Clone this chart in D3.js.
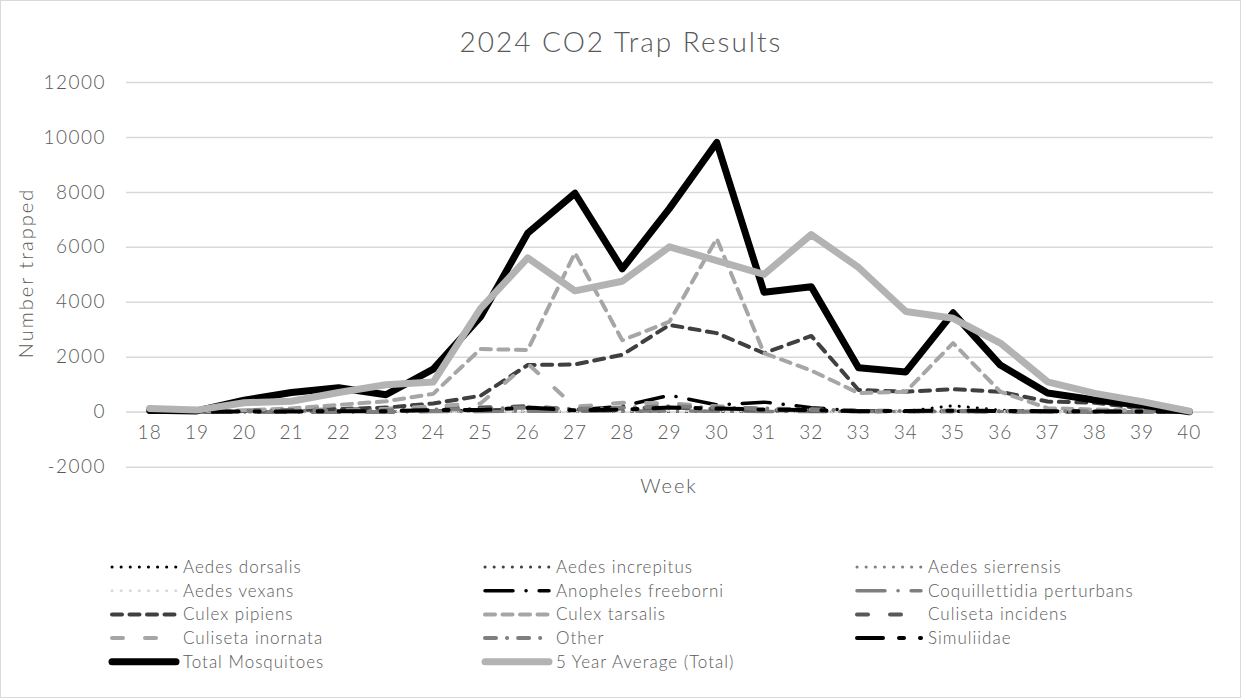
<!DOCTYPE html>
<html>
<head>
<meta charset="utf-8">
<script src="https://cdn.jsdelivr.net/npm/d3@7"></script>
<style>
  body { margin: 0; background: #fff; }
  text { font-family: "Lato", sans-serif; font-weight: 300; fill: #595959; }
</style>
</head>
<body>
<svg width="1241" height="698"></svg>
<script>
var weeks = ["18","19","20","21","22","23","24","25","26","27","28","29","30","31","32","33","34","35","36","37","38","39","40"];
var yTicks = [-2000, 0, 2000, 4000, 6000, 8000, 10000, 12000];

var aedesDorsalis = [0,0,5,5,5,5,10,20,20,10,10,10,10,10,5,5,20,220,60,10,5,0,0];
var aedesIncrepitus = [0,0,5,5,5,5,5,5,5,5,5,5,5,5,5,0,0,0,0,0,0,0,0];
var aedesSierrensis = [0,0,0,0,5,5,10,10,10,10,10,20,30,20,10,5,5,5,5,0,0,0,0];
var aedesVexans = [0,0,0,0,0,5,10,20,20,20,30,40,40,20,10,10,10,10,10,5,0,0,0];
var anophelesFreeborni = [0,0,0,0,0,0,20,50,80,60,200,600,250,350,150,30,20,20,10,5,0,0,0];
var coquillettidia = [0,0,0,0,0,0,5,10,20,20,30,30,20,10,10,5,5,5,5,0,0,0,0];
var culexPipiens = [10,5,30,60,100,150,300,580,1700,1720,2070,3160,2860,2130,2760,790,730,820,730,370,330,120,0];
var culexTarsalis = [20,10,50,120,250,380,650,2280,2250,5780,2600,3280,6300,2130,1500,680,730,2500,730,130,80,40,0];
var culisetaIncidens = [0,0,40,60,80,100,150,150,200,80,120,150,100,60,40,20,20,20,15,10,5,0,0];
var culisetaInornata = [5,5,20,40,60,100,200,300,1750,180,330,300,200,100,80,30,20,20,20,10,5,5,0];
var other = [0,0,20,30,40,50,80,100,150,100,150,200,150,120,80,40,30,40,30,20,10,5,0];
var simuliidae = [0,0,10,10,20,20,60,60,150,50,80,150,120,80,60,20,30,40,30,20,10,5,0];
var totalMosquitoes = [50,30,420,700,870,620,1550,3450,6500,7950,5200,7400,9800,4350,4550,1600,1450,3600,1700,680,430,240,0];
var fiveYearAvg = [120,60,330,380,700,980,1080,3750,5600,4400,4750,6000,5500,5000,6450,5250,3650,3400,2500,1090,670,370,20];

var series = [
  { name: "Aedes dorsalis", values: aedesDorsalis, color: "#000000", width: 3, dash: "0.1 9" },
  { name: "Aedes increpitus", values: aedesIncrepitus, color: "#404040", width: 3, dash: "0.1 9" },
  { name: "Aedes sierrensis", values: aedesSierrensis, color: "#7f7f7f", width: 3, dash: "0.1 9" },
  { name: "Aedes vexans", values: aedesVexans, color: "#d9d9d9", width: 3, dash: "0.1 9" },
  { name: "Anopheles freeborni", values: anophelesFreeborni, color: "#000000", width: 3.5, dash: "28 13 0.1 13" },
  { name: "Coquillettidia perturbans", values: coquillettidia, color: "#7f7f7f", width: 3.5, dash: "28 13 0.1 13" },
  { name: "Culex pipiens", values: culexPipiens, color: "#404040", width: 4, dash: "10 7.5" },
  { name: "Culex tarsalis", values: culexTarsalis, color: "#a6a6a6", width: 4, dash: "10 7.5" },
  { name: "Culiseta incidens", values: culisetaIncidens, color: "#595959", width: 4, dash: "11 22" },
  { name: "Culiseta inornata", values: culisetaInornata, color: "#a6a6a6", width: 4, dash: "11 22" },
  { name: "Other", values: other, color: "#7f7f7f", width: 4, dash: "11 11 0.1 11" },
  { name: "Simuliidae", values: simuliidae, color: "#000000", width: 4, dash: "26 16 5 16" },
  { name: "Total Mosquitoes", values: totalMosquitoes, color: "#000000", width: 7, dash: null },
  { name: "5 Year Average (Total)", values: fiveYearAvg, color: "#b3b3b3", width: 7, dash: null }
];

var svg = d3.select("svg");

// outer chart border
svg.append("rect")
  .attr("x", 0.5).attr("y", 0.5)
  .attr("width", 1240).attr("height", 697)
  .attr("fill", "#fff").attr("stroke", "#d9d9d9");

var x = d3.scaleBand().domain(weeks).range([126, 1213]);
var y = d3.scaleLinear().domain([-2000, 12000]).range([466.7, 82]);

// gridlines + y labels
var yAxis = svg.append("g")
  .attr("transform", "translate(126,0)")
  .call(d3.axisLeft(y).tickValues(yTicks).tickSize(-1087).tickPadding(20).tickFormat(function(d) { return String(d); }));
yAxis.select(".domain").remove();
yAxis.selectAll(".tick line").attr("stroke", "#d9d9d9").attr("stroke-width", 1.5);
yAxis.selectAll(".tick text")
  .style("font-size", "19px").style("font-family", "Lato").style("letter-spacing", "1.5px")
  .attr("fill", "#595959");

// x labels sitting under the zero line
var xAxis = svg.append("g")
  .attr("transform", "translate(0," + y(0) + ")")
  .call(d3.axisBottom(x).tickSize(0).tickPadding(14));
xAxis.select(".domain").attr("stroke", "#d9d9d9").attr("stroke-width", 1.5);
xAxis.selectAll(".tick text")
  .style("font-size", "19px").style("font-family", "Lato").style("letter-spacing", "1px")
  .attr("fill", "#595959");

var line = d3.line()
  .x(function(d, i) { return x(weeks[i]) + x.bandwidth() / 2; })
  .y(function(d) { return y(d); });

svg.append("g").selectAll("path")
  .data(series)
  .enter().append("path")
    .attr("d", function(d) { return line(d.values); })
    .attr("fill", "none")
    .attr("stroke", function(d) { return d.color; })
    .attr("stroke-width", function(d) { return d.width; })
    .attr("stroke-dasharray", function(d) { return d.dash; })
    .attr("stroke-linecap", "round")
    .attr("stroke-linejoin", "round");

// title and axis titles
svg.append("text")
  .attr("x", 621).attr("y", 52)
  .attr("text-anchor", "middle")
  .style("font-size", "28px").style("letter-spacing", "2px")
  .text("2024 CO2 Trap Results");

svg.append("text")
  .attr("x", 669).attr("y", 493)
  .attr("text-anchor", "middle")
  .style("font-size", "20px").style("letter-spacing", "2px")
  .text("Week");

svg.append("text")
  .attr("transform", "translate(33,273) rotate(-90)")
  .attr("text-anchor", "middle")
  .style("font-size", "20px").style("letter-spacing", "2px")
  .text("Number trapped");

// legend
var colX = [110, 483, 855];
var legend = svg.append("g").selectAll("g")
  .data(series)
  .enter().append("g")
    .attr("transform", function(d, i) {
      return "translate(" + colX[i % 3] + "," + (567 + Math.floor(i / 3) * 23.7) + ")";
    });

legend.append("line")
  .attr("x1", 2).attr("x2", 66)
  .attr("stroke", function(d) { return d.color; })
  .attr("stroke-width", function(d) { return d.width; })
  .attr("stroke-dasharray", function(d) { return d.dash; })
  .attr("stroke-linecap", "round");

legend.append("text")
  .attr("x", 73).attr("dy", "0.35em")
  .style("font-size", "17px").style("letter-spacing", "1px")
  .text(function(d) { return d.name; });
</script>
</body>
</html>
